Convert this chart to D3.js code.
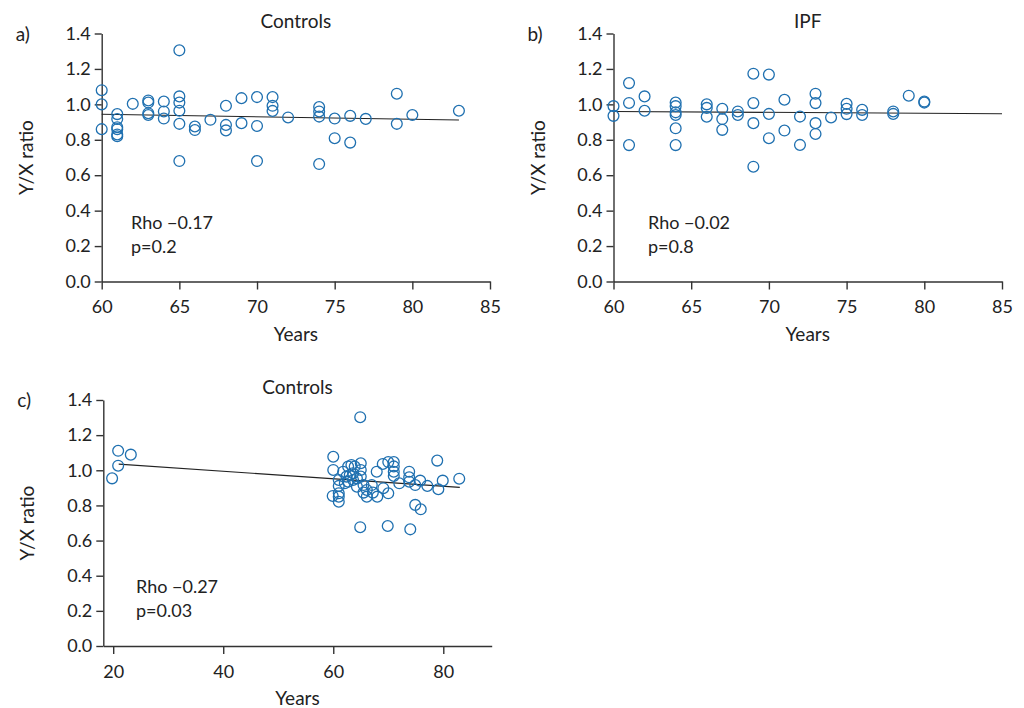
<!DOCTYPE html>
<head>
  <meta charset="utf-8">
  <script src="https://d3js.org/d3.v7.min.js"></script>
<style>
    body {
        margin: 0;
        background: #fff;
    }
    svg text {
        font-family: Lato, "Noto Sans", sans-serif;
        fill: #222;
    }
    .axis path, .axis line {
        stroke: #333;
        stroke-width: 1.4px;
    }
    .axis text {
        font-size: 18px;
        fill: #222;
    }
    .dot {
        fill: none;
        stroke: #1f70b0;
        stroke-width: 1.3px;
    }
    .fit {
        stroke: #222;
        stroke-width: 1.1px;
    }
</style>
</head>

<body>
  <script>

// panel a) controls, age in years and Y/X ratio
var ageA = [60, 60, 60, 61, 61, 61, 61, 61, 61, 62, 63, 63, 63, 63, 64, 64, 64,
    65, 65, 65, 65, 65, 65, 66, 66, 67, 68, 68, 68, 69, 69, 70, 70, 70, 71, 71, 71,
    72, 74, 74, 74, 74, 75, 75, 76, 76, 77, 79, 79, 80, 83];
var ratioA = [1.08, 1.0, 0.86, 0.945, 0.917, 0.871, 0.86, 0.83, 0.82, 1.003, 1.022, 1.01, 0.95, 0.94, 1.016, 0.96, 0.92,
    1.305, 1.045, 1.01, 0.964, 0.89, 0.68, 0.875, 0.855, 0.913, 0.992, 0.884, 0.853, 1.035, 0.894, 1.041, 0.878, 0.68, 1.041, 0.992, 0.963,
    0.926, 0.985, 0.96, 0.931, 0.663, 0.92, 0.809, 0.935, 0.784, 0.918, 1.06, 0.89, 0.94, 0.964];

// panel b) IPF
var ageB = [60, 60, 61, 61, 61, 62, 62, 64, 64, 64, 64, 64, 64, 66, 66, 66, 67, 67, 67, 68, 68,
    69, 69, 69, 69, 70, 70, 70, 71, 71, 72, 72, 73, 73, 73, 73, 74, 75, 75, 75, 76, 76, 78, 78, 79, 80, 80];
var ratioB = [0.99, 0.935, 1.12, 1.008, 0.77, 1.045, 0.964, 1.01, 0.99, 0.955, 0.94, 0.865, 0.77, 1.0, 0.98, 0.93, 0.975, 0.917, 0.856, 0.96, 0.94,
    1.173, 1.007, 0.894, 0.648, 1.168, 0.946, 0.809, 1.026, 0.852, 0.931, 0.771, 1.06, 1.007, 0.894, 0.833, 0.926, 1.003, 0.975, 0.945, 0.969, 0.94, 0.96, 0.946, 1.049, 1.016, 1.01];

// panel c) controls incl. young ones
var ageC = [20.9, 23.2, 20.9, 19.8,
    64.9, 60.0, 60.0, 59.9, 61.0, 61.0, 61.0, 61.0, 61.0, 61.8, 62.7, 63.3, 63.9, 65.0, 65.0, 65.0,
    62.4, 63.0, 63.6, 62.7, 63.6, 64.3, 64.3, 65.5, 65.5, 66.1, 67.0, 67.2, 68.0, 67.9, 69.1, 70.0,
    69.0, 70.0, 71.0, 71.0, 71.0, 71.0, 72.0, 73.8, 73.8, 73.8, 74.9, 75.8, 74.9, 75.9, 77.1, 78.9,
    79.1, 79.9, 82.9, 64.9, 69.9, 74.0, 62.1, 66.1];
var ratioC = [1.111, 1.089, 1.026, 0.954,
    1.302, 1.077, 1.002, 0.854, 0.945, 0.911, 0.869, 0.85, 0.821, 0.992, 1.021, 1.03, 1.021, 1.04, 1.002, 0.964,
    0.964, 0.973, 0.983, 0.935, 0.945, 0.954, 0.907, 0.916, 0.873, 0.85, 0.916, 0.873, 0.85, 0.992, 0.898, 0.869,
    1.036, 1.047, 1.047, 1.022, 0.992, 0.968, 0.926, 0.992, 0.96, 0.935, 0.916, 0.941, 0.803, 0.778, 0.911, 1.055,
    0.892, 0.941, 0.952, 0.676, 0.683, 0.664, 0.926, 0.888];

// fitted lines: [start age, end age], [start ratio, end ratio]
var fitAgeA = [60, 83], fitRatioA = [0.944, 0.912];
var fitAgeB = [60, 85], fitRatioB = [0.96, 0.947];
var fitAgeC = [21, 83], fitRatioC = [1.035, 0.903];

var yTicks = [0, 0.2, 0.4, 0.6, 0.8, 1.0, 1.2, 1.4];
var xTicksAB = [60, 65, 70, 75, 80, 85];
var xTicksC = [20, 40, 60, 80];

var width = 1024;
var height = 708;

var svg = d3.select("body")
    .append("svg")
    .attr("width", width)
    .attr("height", height);

var panels = [
    {tag: "a)", title: "Controls", age: ageA, ratio: ratioA, fitAge: fitAgeA, fitRatio: fitRatioA,
     xDomain: [60, 85], xTicks: xTicksAB, left: 101.7, right: 490, top: 33.5, bottom: 281.5,
     rho: "Rho \u22120.17", p: "p=0.2", statX: 131, statY: 229},
    {tag: "b)", title: "IPF", age: ageB, ratio: ratioB, fitAge: fitAgeB, fitRatio: fitRatioB,
     xDomain: [60, 85], xTicks: xTicksAB, left: 613.5, right: 1002, top: 33.5, bottom: 281.5,
     rho: "Rho \u22120.02", p: "p=0.8", statX: 648, statY: 229},
    {tag: "c)", title: "Controls", age: ageC, ratio: ratioC, fitAge: fitAgeC, fitRatio: fitRatioC,
     xDomain: [18.2, 88.8], xTicks: xTicksC, left: 103.3, right: 491.7, top: 400, bottom: 646,
     rho: "Rho \u22120.27", p: "p=0.03", statX: 136, statY: 593}
];

panels.forEach(drawPanel);

function drawPanel(cfg) {

    var x = d3.scaleLinear()
        .domain(cfg.xDomain)
        .range([cfg.left, cfg.right]);

    var y = d3.scaleLinear()
        .domain([0, 1.4])
        .range([cfg.bottom, cfg.top]);

    var g = svg.append("g");

    g.append("g")
        .attr("class", "axis")
        .attr("transform", "translate(0," + cfg.bottom + ")")
        .call(d3.axisBottom(x).tickValues(cfg.xTicks).tickSize(8).tickPadding(11).tickSizeOuter(0));

    g.append("g")
        .attr("class", "axis")
        .attr("transform", "translate(" + cfg.left + ",0)")
        .call(d3.axisLeft(y).tickValues(yTicks).tickFormat(d3.format(".1f"))
            .tickSize(7).tickPadding(4).tickSizeOuter(0));

    g.selectAll(".axis .domain").attr("stroke", "#333");

    g.append("line")
        .attr("class", "fit")
        .attr("x1", x(cfg.fitAge[0]))
        .attr("x2", x(cfg.fitAge[1]))
        .attr("y1", y(cfg.fitRatio[0]))
        .attr("y2", y(cfg.fitRatio[1]));

    g.selectAll("circle")
        .data(d3.range(cfg.age.length))
        .enter()
        .append("circle")
        .attr("class", "dot")
        .attr("cx", function (i) { return x(cfg.age[i]); })
        .attr("cy", function (i) { return y(cfg.ratio[i]); })
        .attr("r", 5.4);

    var mid = (cfg.left + cfg.right) / 2;

    g.append("text")
        .attr("x", mid)
        .attr("y", cfg.top - 6)
        .attr("text-anchor", "middle")
        .style("font-size", "19px")
        .text(cfg.title);

    g.append("text")
        .attr("x", mid)
        .attr("y", cfg.bottom + 59)
        .attr("text-anchor", "middle")
        .style("font-size", "19px")
        .text("Years");

    g.append("text")
        .attr("transform", "translate(" + (cfg.left - 69) + "," + ((cfg.top + cfg.bottom) / 2) + ") rotate(-90)")
        .attr("text-anchor", "middle")
        .style("font-size", "19px")
        .text("Y/X ratio");

    g.append("text")
        .attr("x", cfg.left - 86)
        .attr("y", cfg.top + 7)
        .style("font-size", "19px")
        .text(cfg.tag);

    g.append("text")
        .attr("x", cfg.statX)
        .attr("y", cfg.statY)
        .style("font-size", "18px")
        .text(cfg.rho);

    g.append("text")
        .attr("x", cfg.statX)
        .attr("y", cfg.statY + 24)
        .style("font-size", "18px")
        .text(cfg.p);
}

  </script>
</body>
